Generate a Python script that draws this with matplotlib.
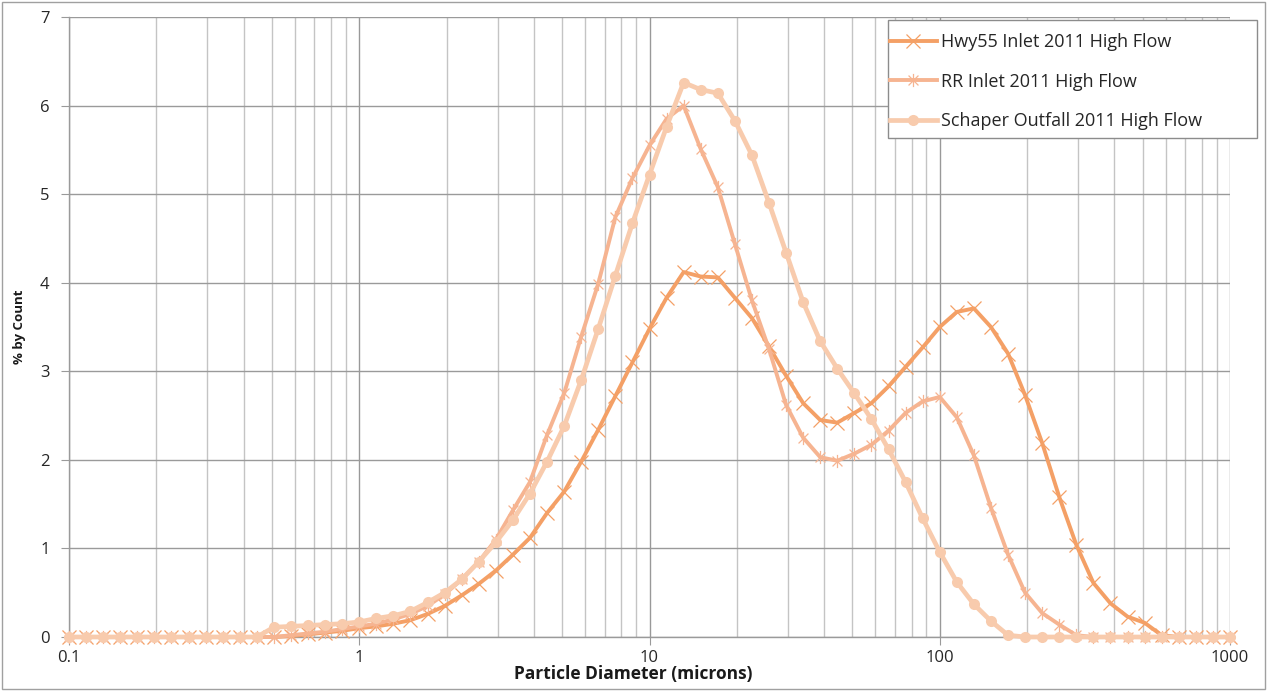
import matplotlib
matplotlib.use("Agg")
import matplotlib.pyplot as plt
from matplotlib.path import Path
from matplotlib.patches import Rectangle
from matplotlib.ticker import LogLocator, FixedLocator, NullFormatter, FixedFormatter

plt.rcParams['font.family'] = ['Open Sans', 'DejaVu Sans']

# ---- data ----
diameters = [
    0.1, 0.1145, 0.1311, 0.1501, 0.1719, 0.1968, 0.2254, 0.2581, 0.2955, 0.3384,
    0.3874, 0.4436, 0.5080, 0.5816, 0.6660, 0.7626, 0.8732,
    1.0, 1.145, 1.311, 1.501, 1.719, 1.968, 2.254, 2.581, 2.955, 3.384,
    3.874, 4.436, 5.080, 5.816, 6.660, 7.626, 8.732,
    10.0, 11.45, 13.11, 15.01, 17.19, 19.68, 22.54, 25.81, 29.55, 33.84,
    38.74, 44.36, 50.80, 58.16, 66.60, 76.26, 87.32,
    100.0, 114.5, 131.1, 150.1, 171.9, 196.8, 225.4, 258.1, 295.5, 338.4,
    387.4, 443.6, 508.0, 581.6, 666.0, 762.6, 873.2,
    1000.0,
]

hwy55 = [0] * 13 + [
    0.01, 0.03, 0.05, 0.07, 0.10, 0.12, 0.15, 0.19, 0.26, 0.35,
    0.47, 0.60, 0.75, 0.93, 1.12, 1.40, 1.64, 1.98, 2.34, 2.72,
    3.10, 3.48, 3.83, 4.12, 4.07, 4.06, 3.83, 3.60, 3.28, 2.95,
    2.64, 2.45, 2.42, 2.53, 2.64, 2.83, 3.05, 3.27, 3.50, 3.67,
    3.71, 3.50, 3.20, 2.73, 2.19, 1.58, 1.04, 0.61, 0.38, 0.23,
    0.16, 0.02] + [0] * 4

rr_inlet = [0] * 13 + [
    0.02, 0.04, 0.06, 0.09, 0.12, 0.15, 0.20, 0.26, 0.35, 0.48,
    0.65, 0.85, 1.10, 1.43, 1.75, 2.28, 2.75, 3.39, 3.99, 4.74,
    5.18, 5.55, 5.85, 6.00, 5.51, 5.08, 4.44, 3.80, 3.25, 2.62,
    2.25, 2.03, 1.99, 2.07, 2.17, 2.33, 2.53, 2.66, 2.71, 2.48,
    2.05, 1.46, 0.93, 0.50, 0.27, 0.14, 0.02] + [0] * 9

schaper = [0] * 12 + [
    0.11, 0.12, 0.13, 0.14, 0.15, 0.17, 0.21, 0.24, 0.29, 0.39,
    0.50, 0.65, 0.85, 1.07, 1.32, 1.62, 1.98, 2.38, 2.90, 3.48,
    4.08, 4.67, 5.22, 5.76, 6.26, 6.18, 6.14, 5.83, 5.44, 4.90,
    4.34, 3.78, 3.34, 3.03, 2.75, 2.46, 2.12, 1.75, 1.34, 0.96,
    0.62, 0.37, 0.18, 0.02] + [0] * 13

series_names = ["Hwy55 Inlet 2011 High Flow", "RR Inlet 2011 High Flow",
                "Schaper Outfall 2011 High Flow"]
x_ticks = [0.1, 1, 10, 100, 1000]
x_tick_labels = ["0.1", "1", "10", "100", "1000"]
y_ticks = [0, 1, 2, 3, 4, 5, 6, 7]

# ---- styles ----
c_hwy = '#F4A066'
c_rr = '#F6B491'
c_sch = '#F8CBAD'

star_path = Path(
    [(0, -1), (0, 1), (-0.75, -0.75), (0.75, 0.75), (-0.75, 0.75), (0.75, -0.75)],
    [Path.MOVETO, Path.LINETO, Path.MOVETO, Path.LINETO, Path.MOVETO, Path.LINETO])

W, H = 1267, 691
fig = plt.figure(figsize=(W / 100, H / 100), dpi=100)
ax = fig.add_axes([69 / W, 1 - 637 / H, (1230 - 69) / W, (637 - 17) / H])

ax.set_xscale('log')
ax.set_xlim(0.1, 1000)
ax.set_ylim(0, 7)

ax.xaxis.set_major_locator(FixedLocator(x_ticks))
ax.xaxis.set_major_formatter(FixedFormatter(x_tick_labels))
ax.xaxis.set_minor_locator(LogLocator(base=10, subs=range(2, 10), numticks=20))
ax.xaxis.set_minor_formatter(NullFormatter())
ax.set_yticks(y_ticks)

ax.grid(True, which='major', axis='x', color='#999999', lw=1.0)
ax.grid(True, which='minor', axis='x', color='#C4C4C4', lw=1.0)
ax.grid(True, which='major', axis='y', color='#9A9A9A', lw=1.0)
ax.set_axisbelow(True)

for s in ['top', 'right']:
    ax.spines[s].set_visible(False)
for s in ['left', 'bottom']:
    ax.spines[s].set_color('#9A9A9A')
    ax.spines[s].set_linewidth(1.0)

ax.tick_params(axis='both', which='major', direction='out', length=6, color='#9A9A9A',
               labelsize=12, labelcolor='#262626')
ax.tick_params(axis='x', which='minor', length=0)
ax.tick_params(axis='x', which='major', pad=3)
ax.tick_params(axis='y', which='major', pad=8)

l1, = ax.plot(diameters, hwy55, color=c_hwy, lw=2.8, marker='x', ms=9.5, mew=0.9,
              mec=c_hwy, clip_on=False, zorder=3, solid_joinstyle='round')
l2, = ax.plot(diameters, rr_inlet, color=c_rr, lw=2.8, marker=star_path, ms=9.5, mew=0.9,
              mec=c_rr, mfc='none', clip_on=False, zorder=4, solid_joinstyle='round')
l3, = ax.plot(diameters, schaper, color=c_sch, lw=3.4, marker='o', ms=8, mew=0,
              mfc=c_sch, clip_on=False, zorder=5, solid_joinstyle='round')

ax.set_xlabel("Particle Diameter (microns)", fontsize=12.5, fontweight='bold',
              color='#1a1a1a')
ax.xaxis.set_label_coords((633 - 69) / (1230 - 69), -0.045)
ax.set_ylabel("% by Count", fontsize=9.5, fontweight='bold', color='#1a1a1a', labelpad=10)

# legend box
rect = Rectangle((888 / W, 1 - 138 / H), (1257 - 888) / W, (138 - 20) / H,
                 transform=fig.transFigure, facecolor='white', edgecolor='#8C8C8C',
                 lw=1.0, zorder=10)
fig.patches.append(rect)
leg = fig.legend([l1, l2, l3], series_names, loc='upper left',
                 bbox_to_anchor=(890 / W, 1 - 33 / H), frameon=False,
                 fontsize=13, labelspacing=1.2, handlelength=2.6,
                 handletextpad=0.25, borderaxespad=0, borderpad=0)
leg.set_zorder(11)
for t in leg.get_texts():
    t.set_color('#262626')

# outer chart border
fig.patches.append(Rectangle((2 / W, 2 / H), (W - 4) / W, (H - 4) / H,
                             transform=fig.transFigure, fill=False,
                             edgecolor='#A0A0A0', lw=1.0))

fig.savefig("out.png", dpi=100)
